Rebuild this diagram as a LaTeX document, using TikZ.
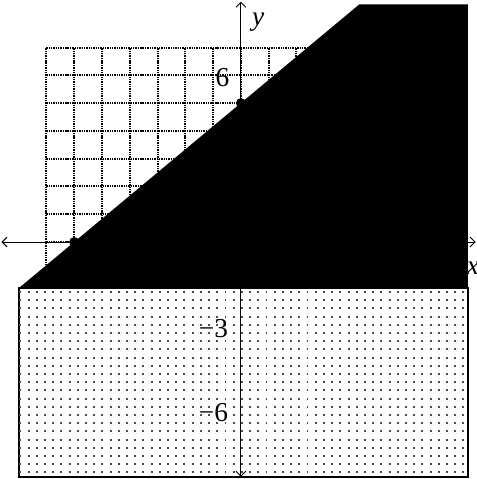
\documentclass[tikz,border=0pt]{standalone}
\usepackage{fontspec}
\setmainfont{Liberation Serif}
\usetikzlibrary{arrows.meta}
\tikzset{
  axis/.style={line width=0.5pt,
               {Straight Barb[length=2.5pt,width=5pt]}-{Straight Barb[length=2.5pt,width=5pt]}},
  gridline/.style={line width=1pt, dash pattern=on 0.7pt off 0.5pt, black},
  dotrow/.style={line width=1pt, dash pattern=on 1pt off 3.2pt, black!70},
  region/.style={fill=white, draw=black, line width=1pt},
  pt/.style={circle, fill=black, inner sep=0pt, minimum size=0.18cm},
  tlabel/.style={font=\fontsize{14}{16}\selectfont, inner sep=0pt},
}

\begin{document}
\begin{tikzpicture}[x=0.5cm, y=0.5cm]
\useasboundingbox (-8.67,-8.53) rectangle (8.49,8.71);

% Background grid
\draw[gridline, step=1] (-7,-7) grid (7,7);

% Shaded half-plane above the line
\fill[black] (-8,-5/3) -- (4.26,8.55) -- (8.17,8.55) -- (8.17,-5/3) -- cycle;

% Dotted rectangle below
\draw[region] (-8,-5/3) rectangle (8.17,-8.45);
\foreach \k in {0,...,22}
  \draw[dotrow] (-7.97,-1.8-0.295*\k) -- (8.1,-1.8-0.295*\k);

% Axes
\coordinate (xl) at (-8.62,0);
\coordinate (xr) at (8.45,0);
\coordinate (yb) at (0,-8.45);
\coordinate (yt) at (0,8.65);
\draw[axis] (xl) -- (xr);
\draw[axis] (yb) -- (yt);

% Points on the line
\node[pt] (p1) at (0,5) {};
\node[pt] (p2) at (-6,0) {};

% Labels
\node[tlabel, anchor=east] (l6) at (-0.4,5.9) {6};
\node[tlabel, anchor=east] (lm3) at (-0.45,-3.1) {−3};
\node[tlabel, anchor=east] (lm6) at (-0.45,-6.15) {−6};
\node[tlabel] (ly) at (0.62,7.9) {\textit{y}};
\node[tlabel] (lx) at (8.35,-0.94) {\textit{x}};
\end{tikzpicture}
\end{document}
